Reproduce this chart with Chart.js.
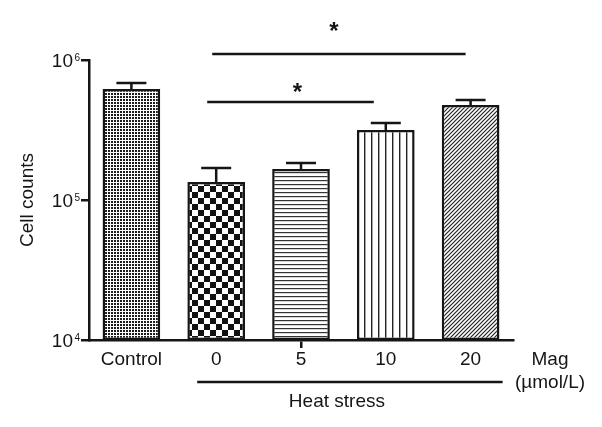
<!DOCTYPE html>
<html>
<head>
<meta charset="utf-8">
<script src="https://cdn.jsdelivr.net/npm/chart.js@4.4.1/dist/chart.umd.min.js"></script>
<style>
  html, body { margin: 0; padding: 0; background: #fff; }
  #wrap { width: 602px; height: 427px; position: relative; }
</style>
</head>
<body>
<div id="wrap"><canvas id="cellChart"></canvas></div>
<script>
const categories = ['Control', '0', '5', '10', '20'];
const cellCounts = [620000, 134500, 166500, 316000, 477000];
const errorTops = [685000, 169000, 184000, 355000, 518000];
const yTickValues = [1e4, 1e5, 1e6];
const yTickExponents = ['4', '5', '6'];
// significance: compared bar indexes and bracket height (cell counts)
const sigPairs = [[1, 3], [1, 4]];
const sigLevels = [501000, 1104000];

const INK = '#151515';
const FONT = '"Liberation Sans", Arial, sans-serif';

function makePattern(w, h, draw) {
    const c = document.createElement('canvas');
    c.width = w;
    c.height = h;
    const g = c.getContext('2d');
    g.fillStyle = '#fff';
    g.fillRect(0, 0, w, h);
    draw(g);
    return document.getElementById('cellChart').getContext('2d').createPattern(c, 'repeat');
}

const patterns = [
    // fine dots
    makePattern(3, 3, g => { g.fillStyle = '#1c1c1c'; g.fillRect(0, 0, 2, 2); }),
    // checkerboard
    makePattern(12, 12, g => { g.fillStyle = '#111'; g.fillRect(0, 0, 6, 6); g.fillRect(6, 6, 6, 6); }),
    // horizontal lines
    makePattern(4, 4, g => { g.fillStyle = '#333'; g.fillRect(0, 0, 4, 1.2); }),
    // vertical lines
    makePattern(7, 7, g => { g.fillStyle = '#222'; g.fillRect(0, 0, 1.4, 7); }),
    // diagonal hatch
    makePattern(4, 4, g => {
        g.strokeStyle = '#222';
        g.lineWidth = 1.2;
        g.beginPath();
        g.moveTo(0, 4); g.lineTo(4, 0);
        g.moveTo(-1, 1); g.lineTo(1, -1);
        g.moveTo(3, 5); g.lineTo(5, 3);
        g.stroke();
    })
];

// per bracket style tweaks (px)
const sigStyle = [
    { dx0: -9, dx1: -12, starDx: 7, starDy: -16 },
    { dx0: -4, dx1: -5, starDx: -5, starDy: -29 }
];

const annotations = {
    id: 'annotations',
    afterDatasetsDraw(chart) {
        const { ctx } = chart;
        const y = chart.scales.y;
        const meta = chart.getDatasetMeta(0);
        ctx.save();
        ctx.strokeStyle = INK;
        ctx.lineWidth = 2.5;
        meta.data.forEach((bar, i) => {
            const top = y.getPixelForValue(errorTops[i]);
            const half = bar.width * 0.26;
            ctx.beginPath();
            ctx.moveTo(bar.x, bar.y);
            ctx.lineTo(bar.x, top);
            ctx.moveTo(bar.x - half, top);
            ctx.lineTo(bar.x + half, top);
            ctx.stroke();
        });
        ctx.restore();
    },
    afterDraw(chart) {
        const { ctx, chartArea } = chart;
        const x = chart.scales.x;
        const y = chart.scales.y;
        ctx.save();
        ctx.fillStyle = INK;
        ctx.strokeStyle = INK;
        ctx.lineWidth = 2.5;

        // y tick labels 10^n
        yTickValues.forEach((v, i) => {
            const py = y.getPixelForValue(v);
            ctx.textAlign = 'right';
            ctx.textBaseline = 'alphabetic';
            ctx.font = '19px ' + FONT;
            ctx.fillText('10', chartArea.left - 16, py + 6.5);
            ctx.textAlign = 'left';
            ctx.font = '10px ' + FONT;
            ctx.fillText(yTickExponents[i], chartArea.left - 14.5, py + 1);
        });

        // significance brackets
        sigPairs.forEach((pair, i) => {
            const s = sigStyle[i];
            const x0 = x.getPixelForValue(pair[0]) + s.dx0;
            const x1 = x.getPixelForValue(pair[1]) + s.dx1;
            const py = y.getPixelForValue(sigLevels[i]);
            ctx.beginPath();
            ctx.moveTo(x0, py);
            ctx.lineTo(x1, py);
            ctx.stroke();
            ctx.font = 'bold 24px ' + FONT;
            ctx.textAlign = 'center';
            ctx.textBaseline = 'alphabetic';
            ctx.fillText('*', (x0 + x1) / 2 + s.starDx, py + s.starDy + 13.7);
        });

        // heat stress group line
        const hx0 = x.getPixelForValue(1) - 19;
        const hx1 = x.getPixelForValue(4) + 32;
        const hy = chartArea.bottom + 42;
        ctx.beginPath();
        ctx.moveTo(hx0, hy);
        ctx.lineTo(hx1, hy);
        ctx.stroke();
        ctx.font = '19px ' + FONT;
        ctx.textAlign = 'center';
        ctx.textBaseline = 'middle';
        ctx.fillText('Heat stress', (hx0 + hx1) / 2 - 13, hy + 20);

        // unit label
        ctx.fillText('Mag', chartArea.right + 37, chartArea.bottom + 20);
        ctx.fillText('(\u00b5mol/L)', chartArea.right + 37, chartArea.bottom + 43);
        ctx.restore();
    }
};

new Chart(document.getElementById('cellChart'), {
    type: 'bar',
    data: {
        labels: categories,
        datasets: [{
            data: cellCounts,
            backgroundColor: patterns,
            borderColor: INK,
            borderWidth: 2.5,
            borderSkipped: false,
            barPercentage: 0.68,
            categoryPercentage: 1
        }]
    },
    options: {
        responsive: true,
        maintainAspectRatio: false,
        animation: false,
        layout: { padding: { top: 60, right: 89, left: 0, bottom: 0 } },
        plugins: {
            legend: { display: false },
            tooltip: { enabled: false }
        },
        scales: {
            x: {
                afterFit: s => { s.height = 87; },
                grid: {
                    drawOnChartArea: false,
                    offset: false,
                    tickLength: 8,
                    lineWidth: 2.5,
                    color: c => (c.index === 2 ? INK : 'rgba(0,0,0,0)')
                },
                border: { color: INK, width: 2.5 },
                ticks: {
                    color: INK,
                    padding: 0,
                    font: { family: FONT, size: 19 }
                }
            },
            y: {
                type: 'logarithmic',
                min: 1e4,
                max: 1e6,
                afterFit: s => { s.width = 89; },
                afterBuildTicks: s => { s.ticks = yTickValues.map(v => ({ value: v, major: true })); },
                grid: {
                    drawOnChartArea: false,
                    tickLength: 8,
                    lineWidth: 2.5,
                    color: INK
                },
                border: { color: INK, width: 2.5 },
                ticks: { display: false },
                title: {
                    display: true,
                    text: 'Cell counts',
                    color: INK,
                    padding: { top: 16, bottom: 0 },
                    font: { family: FONT, size: 19 }
                }
            }
        }
    },
    plugins: [annotations]
});
</script>
</body>
</html>
